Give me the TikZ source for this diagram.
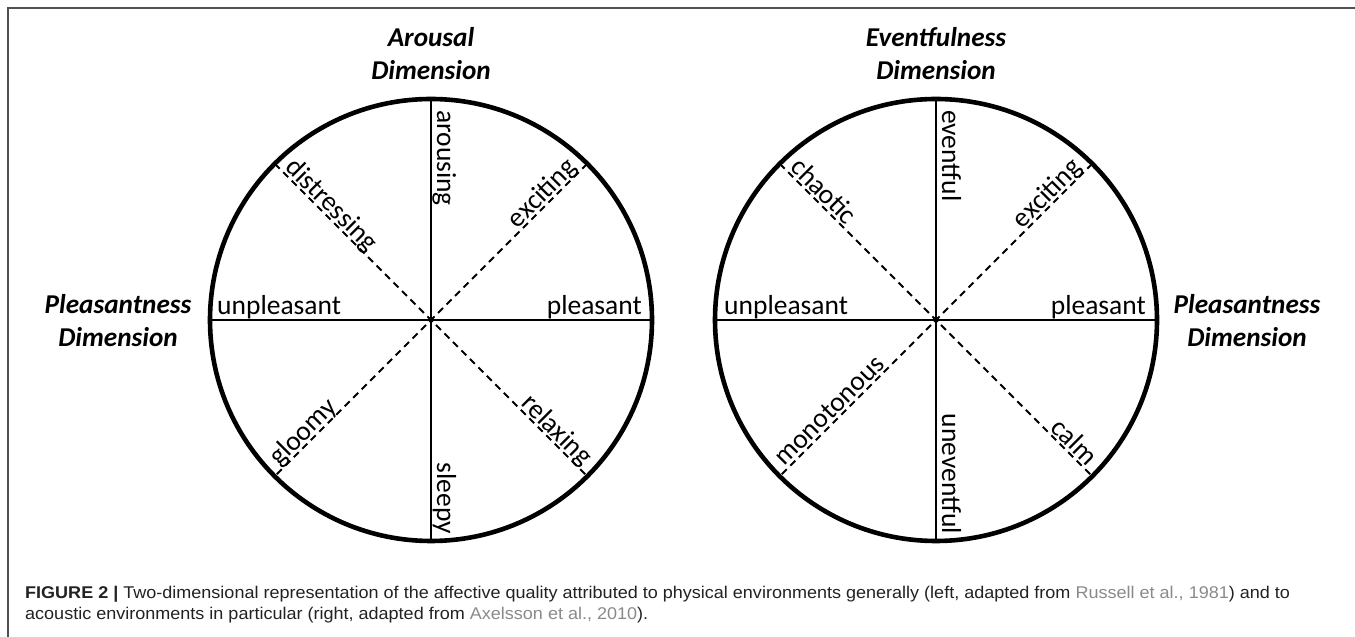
\documentclass[tikz,border=0pt]{standalone}
\usepackage{fontspec}
\setmainfont{Carlito}
\newfontfamily\capfont[FakeStretch=1.06]{Liberation Sans}
\usetikzlibrary{calc}
\definecolor{framegray}{HTML}{505050}
\definecolor{linkgray}{HTML}{8A8A8A}
\definecolor{captext}{HTML}{222222}
\begin{document}
\begin{tikzpicture}[x=1pt,y=1pt,
  wheel/.style={circle, draw, line width=4.6pt, minimum size=442pt, inner sep=0pt, outer sep=0pt},
  axisline/.style={line width=1.9pt},
  diag/.style={line width=1.8pt, dash pattern=on 7pt off 5pt},
  lbl/.style={font=\fontsize{27.5}{33}\selectfont, inner sep=0pt},
  head/.style={font=\fontsize{27.2}{32}\selectfont\bfseries\itshape, inner sep=0pt, anchor=base},
  captxt/.style={font=\capfont\fontsize{17}{21}\selectfont, inner sep=0pt, anchor=base west, text=captext},
  hub/.style={circle, fill, inner sep=0pt, minimum size=5.5pt}
]
\useasboundingbox (0,0) rectangle (1355,637);
\draw[framegray, line width=1.5pt] (8,0) -- (8,629) -- (1355,629);

% left wheel
\node[wheel] (cL) at (431,317) {};
\node[hub] (oL) at (cL.center) {};
\draw[axisline] (cL.north) -- (cL.south);
\draw[axisline] (cL.west) -- (cL.east);
\draw[diag] (cL.north west) -- (cL.south east);
\draw[diag] (cL.north east) -- (cL.south west);
\node[lbl, rotate=-90, anchor=base west] (aro) at ($(cL.center)+(6,210)$) {arousing};
\node[lbl, rotate=-90, anchor=base east] (slp) at ($(cL.center)+(6,-214)$) {sleepy};
\node[lbl, anchor=base west] (unpL) at ($(cL.center)+(-214,5)$) {unpleasant};
\node[lbl, anchor=base east] (plL) at ($(cL.center)+(211,5)$) {pleasant};
\node[lbl, rotate=-45, anchor=base west] (dis) at ($(cL.center)+(135:211)+(45:3)$) {distressing};
\node[lbl, rotate=45, anchor=base east] (excL) at ($(cL.center)+(45:211)+(135:3)$) {exciting};
\node[lbl, rotate=45, anchor=base west] (glo) at ($(cL.center)+(225:211)+(135:3)$) {gloomy};
\node[lbl, rotate=-45, anchor=base east] (rel) at ($(cL.center)+(315:211)+(45:3)$) {relaxing};

% right wheel
\node[wheel] (cR) at (936,317) {};
\node[hub] (oR) at (cR.center) {};
\draw[axisline] (cR.north) -- (cR.south);
\draw[axisline] (cR.west) -- (cR.east);
\draw[diag] (cR.north west) -- (cR.south east);
\draw[diag] (cR.north east) -- (cR.south west);
\node[lbl, rotate=-90, anchor=base west] (evf) at ($(cR.center)+(6,210)$) {eventful};
\node[lbl, rotate=-90, anchor=base east] (unev) at ($(cR.center)+(6,-214)$) {uneventful};
\node[lbl, anchor=base west] (unpR) at ($(cR.center)+(-212,5)$) {unpleasant};
\node[lbl, anchor=base east] (plR) at ($(cR.center)+(210,5)$) {pleasant};
\node[lbl, rotate=-45, anchor=base west] (cha) at ($(cR.center)+(135:211)+(45:3)$) {chaotic};
\node[lbl, rotate=45, anchor=base east] (excR) at ($(cR.center)+(45:211)+(135:3)$) {exciting};
\node[lbl, rotate=45, anchor=base west] (mono) at ($(cR.center)+(225:211)+(135:3)$) {monotonous};
\node[lbl, rotate=-45, anchor=base east] (calm) at ($(cR.center)+(315:211)+(45:3)$) {calm};

% dimension headings
\node[head] (hA1) at (431,590) {Arousal};
\node[head] (hA2) at (431,557) {Dimension};
\node[head] (hE1) at (936,590) {Eventfulness};
\node[head] (hE2) at (936,557) {Dimension};
\node[head] (hP1) at (118,323) {Pleasantness};
\node[head] (hP2) at (118,290) {Dimension};
\node[head] (hQ1) at (1247,323) {Pleasantness};
\node[head] (hQ2) at (1247,290) {Dimension};

% caption
\node[captxt] (cap1) at (25,38) {\textbf{FIGURE 2 |} Two-dimensional representation of the affective quality attributed to physical environments generally (left, adapted from \textcolor{linkgray}{Russell et al., 1981}) and to};
\node[captxt] (cap2) at (25,17) {acoustic environments in particular (right, adapted from \textcolor{linkgray}{Axelsson et al., 2010}).};
\end{tikzpicture}
\end{document}
